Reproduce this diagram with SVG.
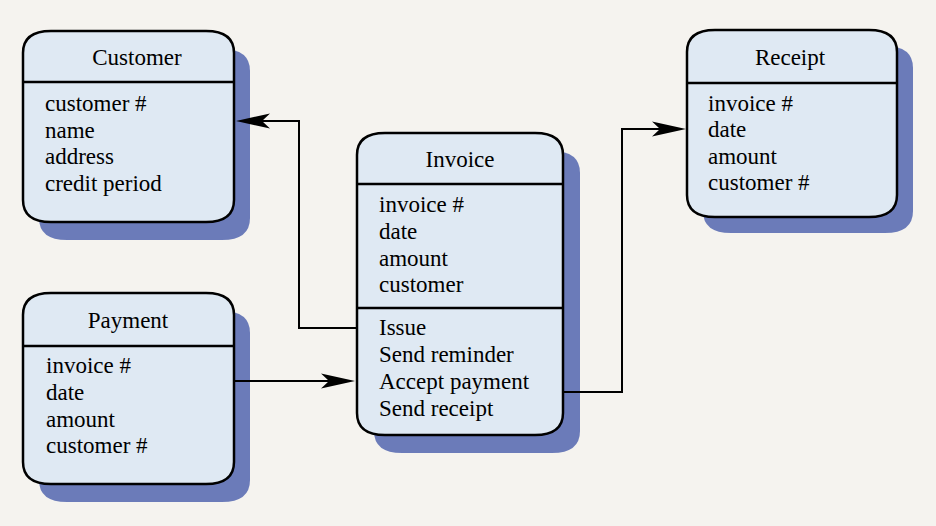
<svg xmlns="http://www.w3.org/2000/svg" width="936" height="526" viewBox="0 0 936 526">
<style>
.bg{fill:#f5f3ef}
.shadow{fill:#6b7bb9}
.box{fill:#dfe9f3;stroke:#000;stroke-width:2.5}
.div{stroke:#000;stroke-width:2.5}
text{font-family:'Liberation Serif','Times New Roman',Tinos,'DejaVu Serif',serif;font-size:23px;fill:#000}
.title{text-anchor:middle}
.conn{fill:none;stroke:#000;stroke-width:2}
</style>
<defs>
<marker id="arr" markerUnits="userSpaceOnUse" viewBox="-15 -9 36 18" refX="0" refY="0" markerWidth="36" markerHeight="18" orient="auto" overflow="visible">
<path d="M20,0 L-14,-7.5 L-6,0 L-14,7.5 Z" fill="#000"/>
</marker>
</defs>
<rect class="bg" x="0" y="0" width="936" height="526"/>

<g id="customer">
<path class="shadow" transform="translate(16,18)" d="M51,31 H206 Q234,31 234,53 V200 Q234,222 206,222 H51 Q23,222 23,200 V53 Q23,31 51,31 Z"/>
<path class="box" d="M51,31 H206 Q234,31 234,53 V200 Q234,222 206,222 H51 Q23,222 23,200 V53 Q23,31 51,31 Z"/>
<line class="div" x1="23" y1="82" x2="234" y2="82"/>
<text class="title" x="137" y="65">Customer</text>
<text x="45" y="111">customer #</text>
<text x="45" y="137.5">name</text>
<text x="45" y="164">address</text>
<text x="45" y="190.5">credit period</text>
</g>

<g id="receipt">
<path class="shadow" transform="translate(16,16)" d="M715,30 H869 Q897,30 897,52 V195 Q897,217 869,217 H715 Q687,217 687,195 V52 Q687,30 715,30 Z"/>
<path class="box" d="M715,30 H869 Q897,30 897,52 V195 Q897,217 869,217 H715 Q687,217 687,195 V52 Q687,30 715,30 Z"/>
<line class="div" x1="687" y1="83" x2="897" y2="83"/>
<text class="title" x="790" y="65">Receipt</text>
<text x="708" y="111">invoice #</text>
<text x="708" y="137">date</text>
<text x="708" y="163.5">amount</text>
<text x="708" y="190">customer #</text>
</g>

<g id="invoice">
<path class="shadow" transform="translate(17,18)" d="M385,133 H535 Q563,133 563,155 V413 Q563,435 535,435 H385 Q357,435 357,413 V155 Q357,133 385,133 Z"/>
<path class="box" d="M385,133 H535 Q563,133 563,155 V413 Q563,435 535,435 H385 Q357,435 357,413 V155 Q357,133 385,133 Z"/>
<line class="div" x1="357" y1="184" x2="563" y2="184"/>
<line class="div" x1="357" y1="308" x2="563" y2="308"/>
<text class="title" x="460" y="167">Invoice</text>
<text x="379" y="212">invoice #</text>
<text x="379" y="238.5">date</text>
<text x="379" y="265.5">amount</text>
<text x="379" y="292">customer</text>
<text x="379" y="335">Issue</text>
<text x="379" y="362">Send reminder</text>
<text x="379" y="389">Accept payment</text>
<text x="379" y="415.5">Send receipt</text>
</g>

<g id="payment">
<path class="shadow" transform="translate(16,18)" d="M51,293 H206 Q234,293 234,315 V462 Q234,484 206,484 H51 Q23,484 23,462 V315 Q23,293 51,293 Z"/>
<path class="box" d="M51,293 H206 Q234,293 234,315 V462 Q234,484 206,484 H51 Q23,484 23,462 V315 Q23,293 51,293 Z"/>
<line class="div" x1="23" y1="346" x2="234" y2="346"/>
<text class="title" x="128" y="328">Payment</text>
<text x="46" y="373">invoice #</text>
<text x="46" y="399.5">date</text>
<text x="46" y="426.5">amount</text>
<text x="46" y="453">customer #</text>
</g>

<g id="connectors">
<path class="conn" d="M357,328 H299 V121 H256" marker-end="url(#arr)"/>
<path class="conn" d="M234,381 H335" marker-end="url(#arr)"/>
<path class="conn" d="M563,392 H622 V129 H666" marker-end="url(#arr)"/>
</g>
</svg>
